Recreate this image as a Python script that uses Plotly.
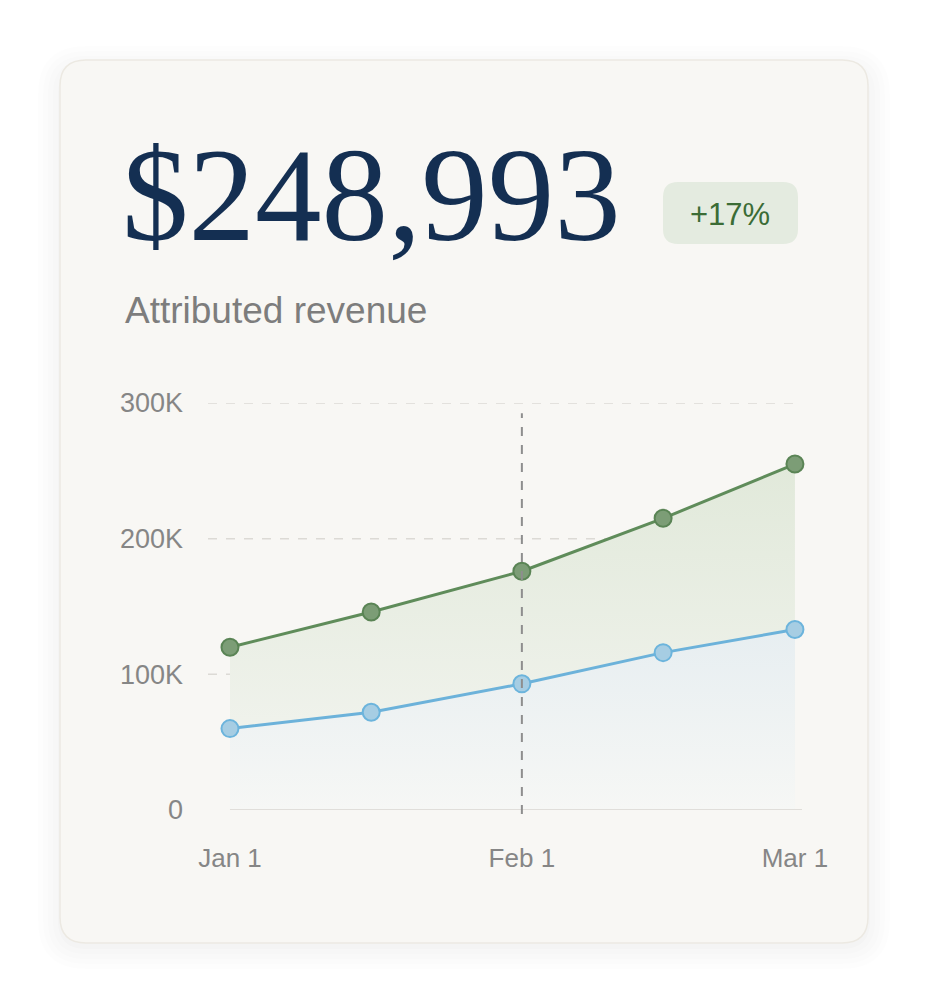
import plotly.graph_objects as go

# data
dates = ["2024-01-01", "2024-01-16", "2024-02-01", "2024-02-16", "2024-03-01"]
total_revenue = [120000, 146000, 176000, 215000, 255000]
attributed = [60000, 72000, 93000, 116000, 133000]
y_ticks = [0, 100000, 200000, 300000]
y_tick_labels = ["0", "100K", "200K", "300K"]
x_ticks = ["2024-01-01", "2024-02-01", "2024-03-01"]
x_tick_labels = ["Jan 1", "Feb 1", "Mar 1"]
headline = "$248,993"
change = "+17%"
subtitle = "Attributed revenue"

OFF = 8  # page body margin
W, H = 930 - OFF, 1006 - OFF
L, R, T, B = 208 - OFF, 802 - OFF, 403 - OFF, 810 - OFF  # plot area in pixels


def px(x):
    return (x - OFF - L) / (R - L)


def py(y):
    return (B - (y - OFF)) / (B - T)


def rounded(x0, y0, x1, y1, r):
    # rounded rectangle path in paper coords from a pixel box of the reference
    return (
        f"M {px(x0 + r)} {py(y0)} L {px(x1 - r)} {py(y0)} Q {px(x1)} {py(y0)} {px(x1)} {py(y0 + r)} "
        f"L {px(x1)} {py(y1 - r)} Q {px(x1)} {py(y1)} {px(x1 - r)} {py(y1)} "
        f"L {px(x0 + r)} {py(y1)} Q {px(x0)} {py(y1)} {px(x0)} {py(y1 - r)} "
        f"L {px(x0)} {py(y0 + r)} Q {px(x0)} {py(y0)} {px(x0 + r)} {py(y0)} Z"
    )


sans = "Liberation Sans, Arial, sans-serif"
x_range = ["2023-12-29 16:00", "2024-03-01 18:00"]

fig = go.Figure()

# green series with gradient fill
fig.add_trace(go.Scatter(
    x=dates, y=total_revenue, mode="lines+markers", fill="tozeroy",
    fillgradient=dict(type="vertical", colorscale=[[0, "#f4f5f1"], [1, "#e1e9da"]]),
    line=dict(color="#5f8c5a", width=3),
    marker=dict(size=17, color="#7c9d76", line=dict(color="#5a8455", width=2)),
    cliponaxis=False, hoverinfo="skip"
))

# blue series, its fill covers the green below it
fig.add_trace(go.Scatter(
    x=dates, y=attributed, mode="lines+markers", fill="tozeroy",
    fillgradient=dict(type="vertical", colorscale=[[0, "#f6f7f5"], [1, "#e7eef1"]]),
    line=dict(color="#6cb2da", width=3),
    marker=dict(size=17, color="#a6cde3", line=dict(color="#6cb4dc", width=2)),
    cliponaxis=False, hoverinfo="skip"
))

shapes = []
# soft card shadow, then the card
for i, a in enumerate([0.006, 0.008, 0.010, 0.012, 0.015]):
    g = 22 - i * 5
    shapes.append(dict(type="path", xref="paper", yref="paper", layer="below",
                       path=rounded(60 - g, 60 - g + 8, 868 + g, 943 + g + 4, 26 + g),
                       fillcolor=f"rgba(60,60,60,{a})", line=dict(width=0)))
shapes.append(dict(type="path", xref="paper", yref="paper", layer="below",
                   path=rounded(60, 60, 868, 943, 26),
                   fillcolor="#f8f7f4", line=dict(color="#ece9e2", width=1.5)))
# badge
shapes.append(dict(type="path", xref="paper", yref="paper", layer="below",
                   path=rounded(663, 182, 798, 244, 15),
                   fillcolor="#e4ebe0", line=dict(width=0)))
# dashed gridlines
for v in y_ticks[1:]:
    shapes.append(dict(type="line", xref="paper", yref="y", x0=0, x1=1, y0=v, y1=v,
                       layer="below", line=dict(color="#dcdad5", width=1.5, dash="dash")))
# zero line
shapes.append(dict(type="line", xref="x", yref="y", x0=dates[0], x1=x_range[1], y0=0, y1=0,
                   layer="above", line=dict(color="#e0deda", width=2)))
# vertical marker at Feb 1
shapes.append(dict(type="line", xref="x", yref="paper", x0=dates[2], x1=dates[2], y0=-0.01, y1=0.975,
                   layer="above", line=dict(color="#8e8e8e", width=2, dash="dash")))

annotations = [
    dict(text=headline, xref="paper", yref="paper", x=px(120), y=py(195), xanchor="left",
         yanchor="middle", showarrow=False,
         font=dict(family="Liberation Serif, DejaVu Serif, serif", size=133, color="#142f52")),
    dict(text=change, xref="paper", yref="paper", x=px(730), y=py(214), xanchor="center",
         yanchor="middle", showarrow=False,
         font=dict(family=sans, size=31, color="#3b6c36")),
    dict(text=subtitle, xref="paper", yref="paper", x=px(123), y=py(310), xanchor="left",
         yanchor="middle", showarrow=False,
         font=dict(family=sans, size=37, color="#7d7d7d")),
]

fig.update_layout(
    width=W, height=H,
    margin=dict(l=L, r=W - R, t=T, b=H - B),
    paper_bgcolor="white", plot_bgcolor="rgba(0,0,0,0)",
    showlegend=False,
    shapes=shapes,
    annotations=annotations,
    xaxis=dict(type="date", range=x_range, tickvals=x_ticks, ticktext=x_tick_labels,
               showgrid=False, zeroline=False, showline=False, ticks="",
               ticklabelstandoff=30,
               tickfont=dict(family=sans, size=26, color="#868686")),
    yaxis=dict(range=[0, 300000], tickvals=y_ticks, ticktext=y_tick_labels,
               showgrid=False, zeroline=False, showline=False, ticks="",
               ticklabelstandoff=24,
               tickfont=dict(family=sans, size=27, color="#868686")),
)

fig.write_html("out.html")
